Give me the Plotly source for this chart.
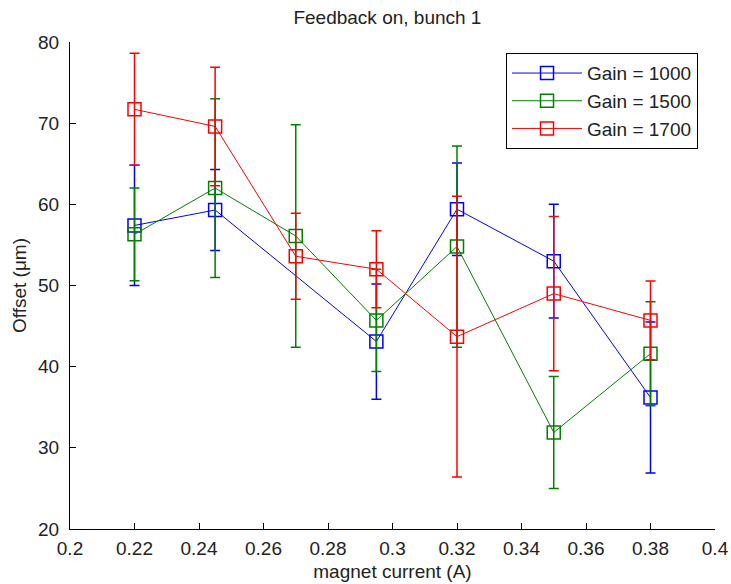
import plotly.graph_objects as go

# Data
x_blue = [0.22, 0.245, 0.295, 0.32, 0.35, 0.38]
y_blue = [57.4, 59.3, 43.1, 59.4, 53.0, 36.2]
e_blue = [7.4, 5.0, 7.1, 5.7, 7.0, 9.3]

x_green = [0.22, 0.245, 0.27, 0.295, 0.32, 0.35, 0.38]
y_green = [56.3, 62.0, 56.1, 45.7, 54.8, 31.9, 41.6]
e_green = [5.7, 11.0, 13.7, 6.3, 12.4, 6.9, 6.4]

x_red = [0.22, 0.245, 0.27, 0.295, 0.32, 0.35, 0.38]
y_red = [71.7, 69.6, 53.6, 52.0, 43.7, 49.0, 45.7]
e_red = [6.9, 7.3, 5.3, 4.75, 17.3, 9.5, 4.85]

names = ["Gain = 1000", "Gain = 1500", "Gain = 1700"]
colors = ["#0000ff", "#008000", "#ff0000"]

x_tickvals = [0.2, 0.22, 0.24, 0.26, 0.28, 0.3, 0.32, 0.34, 0.36, 0.38, 0.4]
x_ticktext = ["0.2", "0.22", "0.24", "0.26", "0.28", "0.3", "0.32", "0.34", "0.36", "0.38", "0.4"]
y_tickvals = [20, 30, 40, 50, 60, 70, 80]

FONT = "Liberation Sans, Arial, sans-serif"
fs = 19

fig = go.Figure()
for xs, ys, es, name, c in [
    (x_blue, y_blue, e_blue, names[0], colors[0]),
    (x_green, y_green, e_green, names[1], colors[1]),
    (x_red, y_red, e_red, names[2], colors[2]),
]:
    fig.add_trace(go.Scatter(
        x=xs, y=ys, name=name, mode="lines+markers",
        line=dict(color=c, width=1),
        marker=dict(symbol="square-open", size=13, color=c, line=dict(width=1.5, color=c)),
        error_y=dict(type="data", array=es, visible=True, color=c, thickness=1.5, width=5),
    ))

fig.update_layout(
    width=731, height=584,
    margin=dict(l=70, r=16, t=42, b=55, autoexpand=False),
    paper_bgcolor="white", plot_bgcolor="white",
    font=dict(family=FONT, size=fs, color="#222"),
    title=dict(text="Feedback on, bunch 1", x=0.53, xanchor="center", y=0.97, yanchor="middle",
               font=dict(family=FONT, size=fs, color="#222")),
    showlegend=True,
    legend=dict(x=0.676, y=0.977, xanchor="left", yanchor="top",
                bgcolor="white", bordercolor="black", borderwidth=1,
                font=dict(family=FONT, size=fs, color="#222"),
                tracegroupgap=0, itemwidth=70),
)
fig.update_xaxes(range=[0.2, 0.4], tickvals=x_tickvals, ticktext=x_ticktext, automargin=False,
                 showgrid=False, zeroline=False, showline=True, linecolor="black", linewidth=1,
                 ticks="inside", ticklen=6, tickcolor="black", ticklabelstandoff=2,
                 title=dict(text="magnet current (A)", standoff=6,
                            font=dict(family=FONT, size=fs, color="#222")))
fig.update_yaxes(range=[20, 80], tickvals=y_tickvals, automargin=False,
                 showgrid=False, zeroline=False, showline=True, linecolor="black", linewidth=1,
                 ticks="inside", ticklen=6, tickcolor="black", ticklabelstandoff=6,
                 title=dict(text="Offset (μm)", standoff=6,
                            font=dict(family=FONT, size=fs, color="#222")))

fig.write_html("out.html")
